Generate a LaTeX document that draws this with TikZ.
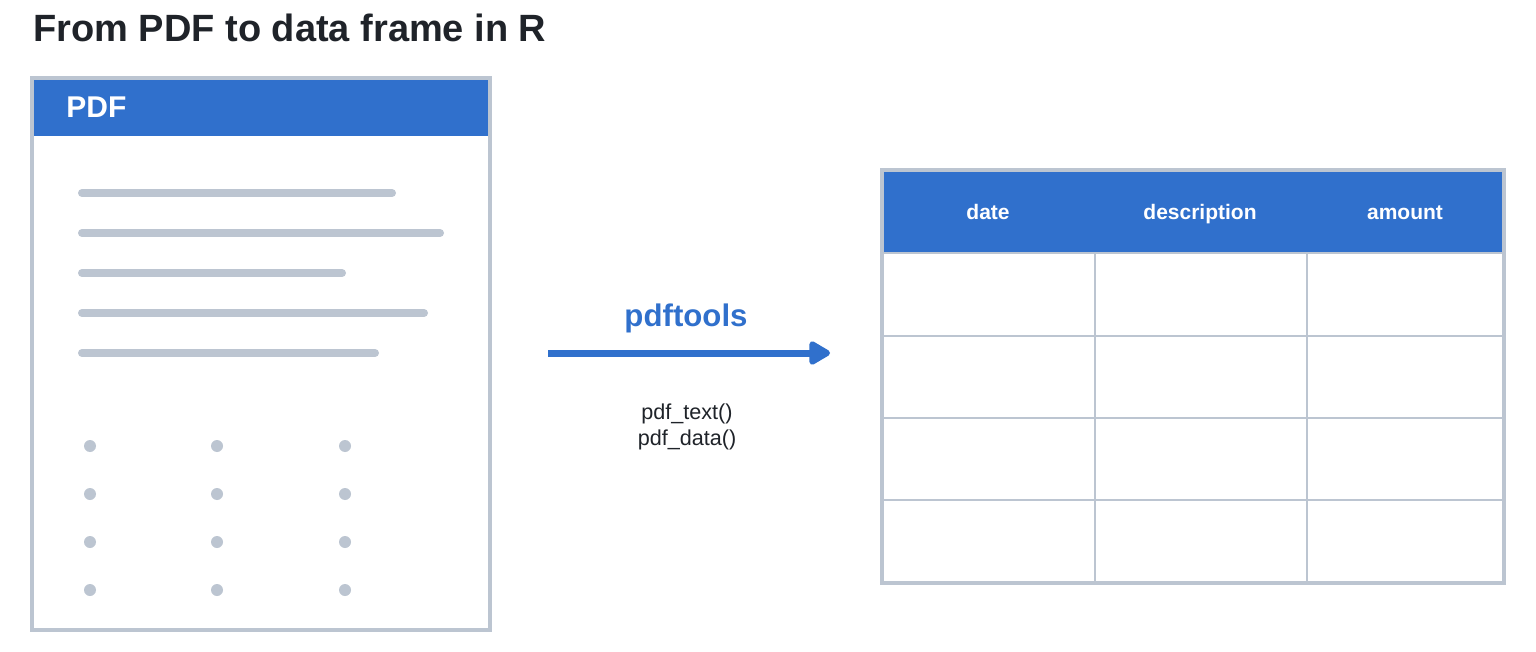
\documentclass[tikz,border=0pt]{standalone}
\usepackage{fontspec}
\setmainfont{Liberation Sans}
\usetikzlibrary{arrows.meta}
\definecolor{pblue}{HTML}{3070CC}
\definecolor{pgray}{HTML}{BCC5D1}
\definecolor{pdark}{HTML}{1F2329}
\tikzset{
  txtline/.style={pgray, line width=4pt, line cap=round},
  dot/.style={circle, fill=pgray, inner sep=0pt, minimum size=6pt},
  hdr/.style={text=white, font=\bfseries\fontsize{10.5}{12}\selectfont, anchor=base, inner sep=0pt},
  grid/.style={pgray, line width=1pt},
  frame/.style={pgray, line width=1.6pt},
}
\begin{document}
\begin{tikzpicture}[x=0.5pt,y=-0.5pt]
\useasboundingbox[fill=white] (0,0) rectangle (1536,652);
% title
\node[anchor=base west, inner sep=0pt, text=pdark, font=\bfseries\fontsize{19}{22}\selectfont] (title) at (33,42) {From PDF to data frame in R};
% PDF document
\fill[white] (32,78) rectangle (490,630);
\fill[pblue] (32,78) rectangle (490,136);
\draw[frame] (32,78) rectangle (490,630);
\node[anchor=base west, inner sep=0pt, text=white, font=\bfseries\fontsize{15}{18}\selectfont] (pdflabel) at (66,118) {PDF};
\draw[txtline] (82,193) -- (392,193);
\draw[txtline] (82,233) -- (440,233);
\draw[txtline] (82,273) -- (342,273);
\draw[txtline] (82,313) -- (424,313);
\draw[txtline] (82,353) -- (375,353);
\foreach \x in {90,217,345}
  \foreach \y in {446,494,542,590}
    \node[dot] at (\x,\y) {};
% arrow
\coordinate (astart) at (548,353);
\coordinate (aend) at (830,353);
\draw[pblue, line width=3.5pt, -{Triangle[round, length=12pt, width=13pt]}] (astart) -- (aend);
\node[text=pblue, font=\bfseries\fontsize{15.6}{18}\selectfont, anchor=base, inner sep=0pt] (tool) at (686,327) {pdftools};
\node[text=pdark, font=\fontsize{10.8}{13}\selectfont, anchor=base, inner sep=0pt] (f1) at (687,419) {pdf\_text()};
\node[text=pdark, font=\fontsize{10.8}{13}\selectfont, anchor=base, inner sep=0pt] (f2) at (687,445) {pdf\_data()};
% table
\fill[white] (882,170) rectangle (1504,583);
\fill[pblue] (882,170) rectangle (1504,253);
\draw[grid] (1095,253) -- (1095,583);
\draw[grid] (1307,253) -- (1307,583);
\foreach \y in {253,336,418,500}
  \draw[grid] (882,\y) -- (1504,\y);
\draw[pgray, line width=2pt] (882,170) rectangle (1504,583);
\node[hdr] (hdate) at (988,220) {date};
\node[hdr] (hdesc) at (1200,220) {description};
\node[hdr] (hamt) at (1405,220) {amount};
\end{tikzpicture}
\end{document}
